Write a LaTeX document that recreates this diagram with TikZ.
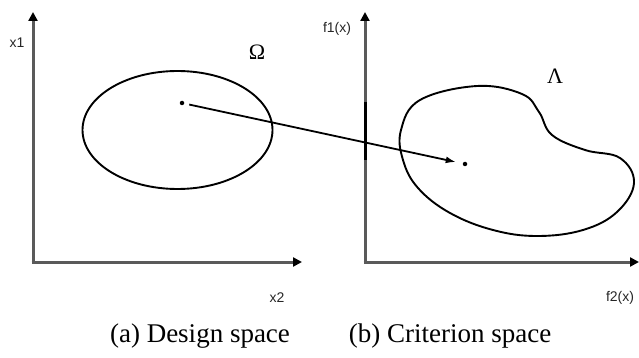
\documentclass[tikz,border=0pt]{standalone}
\usepackage{fontspec}
\setmainfont{Liberation Serif}
\newfontfamily\arialfont{Liberation Sans}
\usetikzlibrary{arrows.meta}
\definecolor{axisgray}{HTML}{5A5A5A}
\tikzset{
  axisline/.style={draw=axisgray, line width=3pt, -{Triangle[length=9pt,width=9pt,fill=black,color=black]}},
  region/.style={draw=black, line width=1.9pt},
  pointdot/.style={circle, fill=black, inner sep=0pt, minimum size=4.5pt},
  axlabel/.style={font=\arialfont\fontsize{14}{16}\selectfont, text=black!85, inner sep=0pt},
  greeklabel/.style={font=\fontsize{22}{24}\selectfont, inner sep=0pt},
  captionlabel/.style={font=\fontsize{27}{30}\selectfont, inner sep=0pt},
  maparrow/.style={draw=black, line width=1.8pt, -{Latex[length=10pt,width=7pt]}}
}
\begin{document}
\begin{tikzpicture}[x=1pt,y=-1pt]
\useasboundingbox (0,0) rectangle (639,358);
% left axes
\coordinate (lo) at (33,262);
\coordinate (ly) at (33,12);
\coordinate (lx) at (302,262);
\draw[axisline] (lo) -- (ly);
\draw[axisline] ([xshift=-1.5pt]lo) -- (lx);
% right axes
\coordinate (ro) at (365,262);
\coordinate (ry) at (365,12);
\coordinate (rx) at (639,262);
\draw[axisline] (ro) -- (ry);
\draw[axisline] ([xshift=-1.5pt]ro) -- (rx);
\coordinate (darka) at (365,102);
\coordinate (darkb) at (365,160);
\draw[black, line width=3pt] (darka) -- (darkb);
% design region
\draw[region] (177.5,130) ellipse [x radius=95, y radius=59];
% criterion region
\draw[region] plot[smooth cycle, tension=0.65] coordinates {
  (477,86) (522,94) (539,112) (552,135) (585,150) (620,158) (634,183)
  (617,212) (583,230) (537,236) (493,230) (450,213) (418,188) (403,160)
  (401,130) (420,100)};
% points and mapping
\node[pointdot] (d1) at (182,103) {};
\node[pointdot] (d2) at (465,164) {};
\draw[maparrow, shorten <=5pt, shorten >=7pt] (d1) -- (d2);
% labels
\node[axlabel] (lx1) at (17,43) {x1};
\node[axlabel] (lx2) at (277,298) {x2};
\node[axlabel] (lf1) at (337,29) {f1(x)};
\node[axlabel] (lf2) at (620,298) {f2(x)};
\node[greeklabel] (omega) at (257,52) {Ω};
\node[greeklabel] (lambda) at (555,76) {Λ};
\node[captionlabel] (capa) at (200,336) {(a) Design space};
\node[captionlabel] (capb) at (450,336) {(b) Criterion space};
\end{tikzpicture}
\end{document}
